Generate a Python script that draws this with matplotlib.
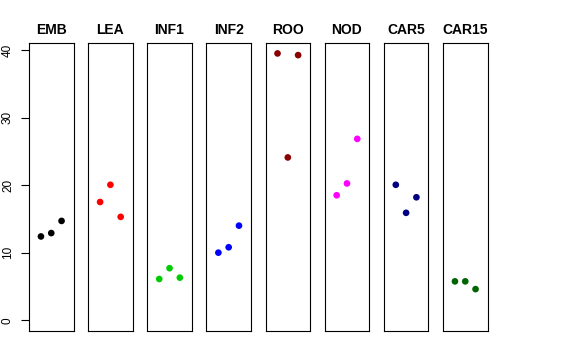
import matplotlib
matplotlib.use("Agg")
import matplotlib.pyplot as plt

plt.rcParams['font.family'] = ['Liberation Sans', 'DejaVu Sans']

categories = ["EMB", "LEA", "INF1", "INF2", "ROO", "NOD", "CAR5", "CAR15"]
values = {
    "EMB":   [12.4, 12.9, 14.7],
    "LEA":   [17.5, 20.05, 15.3],
    "INF1":  [6.1, 7.7, 6.3],
    "INF2":  [10.0, 10.8, 14.0],
    "ROO":   [39.5, 24.1, 39.25],
    "NOD":   [18.5, 20.25, 26.85],
    "CAR5":  [20.05, 15.9, 18.2],
    "CAR15": [5.75, 5.75, 4.6],
}
colors = ["#000000", "#FF0000", "#00CD00", "#0000FF", "#8B0000",
          "#FF00FF", "#000080", "#006400"]
yticks = [0, 10, 20, 30, 40]

W, H = 576, 360
fig = plt.figure(figsize=(W / 100, H / 100), dpi=100)

left0 = 29.0
step = (443.0 - 29.0) / 7
pw = 44.5
top_px, bot_px = 43.3, 331.0

for i, cat in enumerate(categories):
    l = left0 + i * step
    ax = fig.add_axes([l / W, 1 - bot_px / H, pw / W, (bot_px - top_px) / H])
    ys = values[cat]
    xs = list(range(1, len(ys) + 1))
    ax.scatter(xs, ys, s=23, color=colors[i], edgecolors='none', zorder=3)
    ax.set_xlim(-0.16, 4.16)
    ax.set_ylim(-1.6, 41.0)
    ax.set_xticks([])
    for sp in ax.spines.values():
        sp.set_linewidth(0.8)
        sp.set_color('#000000')
    ax.set_title(cat, fontsize=10, fontweight='bold', pad=6.5)
    if i == 0:
        ax.set_yticks(yticks)
        ax.set_yticklabels([str(t) for t in yticks], rotation=90, va='center',
                           fontsize=8.5)
        ax.tick_params(axis='y', length=5.8, width=0.8, pad=5)
    else:
        ax.set_yticks([])

fig.savefig("out.png", dpi=100)
